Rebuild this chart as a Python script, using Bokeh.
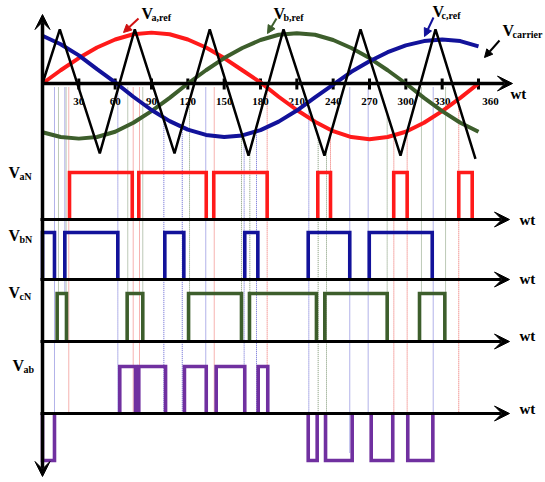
import numpy as np
from bokeh.plotting import figure
from bokeh.models import Range1d, Arrow, VeeHead, NormalHead
from bokeh.core.properties import value
from bokeh.embed import file_html
from bokeh.resources import INLINE

# ---------------- data ----------------
# reference waves (per unit), sampled every 15 degrees
ref_angle = [0, 15, 30, 45, 60, 75, 90, 105, 120, 135, 150, 165, 180,
             195, 210, 225, 240, 255, 270, 285, 300, 315, 330, 345, 360]
va_ref = [0.00, 0.25, 0.48, 0.68, 0.83, 0.93, 0.96, 0.93, 0.83, 0.68, 0.48, 0.25, 0.02,
          -0.25, -0.50, -0.72, -0.90, -1.01, -1.05, -1.01, -0.91, -0.74, -0.52, -0.27, 0.00]
vb_ref = [-0.92, -1.01, -1.04, -1.01, -0.91, -0.74, -0.52, -0.27, 0.00, 0.25, 0.48, 0.67, 0.82,
          0.92, 0.95, 0.92, 0.82, 0.67, 0.48, 0.25, 0.00, -0.27, -0.52, -0.74, -0.91]
vc_ref = [0.90, 0.74, 0.53, 0.27, 0.02, -0.25, -0.50, -0.71, -0.87, -0.97, -1.01, -0.98, -0.88,
          -0.72, -0.51, -0.26, -0.02, 0.22, 0.42, 0.59, 0.72, 0.80, 0.83, 0.80, 0.70]

# triangular carrier vertices
carrier_angle = [0, 14.3, 47.3, 76.2, 109.0, 138.1, 170.1, 199.0, 232.8, 262.6, 295.6, 324.5, 357.5]
carrier_value = [0, 1.02, -1.32, 1.02, -1.32, 1.02, -1.36, 1.02, -1.36, 1.02, -1.36, 1.02, -1.42]

tick_angle = [30, 60, 90, 120, 150, 180, 210, 240, 270, 300, 330, 360]
tick_label = ["30", "60", "90", "120", "150", "180", "210", "240", "270", "300", "330", "360"]

# switching pulses (degrees)
van_on = [22.3, 79.5, 141.4, 227.3, 290.0, 343.7]
van_off = [74.1, 135.2, 185.5, 237.8, 301.1, 354.8]
vbn_on = [0.0, 18.4, 101.0, 167.0, 219.4, 269.8]
vbn_off = [9.9, 62.2, 116.7, 177.8, 253.7, 321.8]
vcn_on = [12.1, 69.9, 120.6, 170.9, 233.1, 311.3]
vcn_off = [19.8, 82.8, 164.3, 226.2, 284.6, 332.2]
vab_on = [0.0, 63.8, 79.5, 117.2, 143.4, 178.1, 219.4, 233.7, 271.4, 301.6]
vab_off = [9.9, 76.8, 101.6, 135.2, 167.0, 186.0, 226.8, 255.7, 289.2, 322.3]
vab_level = [-1, 1, 1, 1, 1, 1, -1, -1, -1, -1]

# dotted guide lines
dot_angle = [9.9, 13.2, 18.4, 19.5, 21.7, 62.2, 70.4, 74.9, 80.1, 82.8, 100.2, 115.4,
             121.4, 134.8, 141.8, 164.3, 166.5, 171.2, 176.7, 185.5, 219.9, 227.6, 234.5,
             237.8, 253.7, 268.9, 284.6, 290.1, 301.1, 312.9, 322.6, 332.8, 343.7]
dot_series = ["b", "g", "b", "g", "r", "b", "g", "r", "r", "g", "b", "b",
              "g", "b", "r", "g", "b", "g", "b", "r", "b", "g", "g",
              "r", "b", "b", "g", "r", "r", "g", "b", "g", "r"]
dot_end = ["ab", "ctop", "ctop", "ctop", "ab", "ab", "ctop", "ab", "ab", "ctop", "ab", "ab",
           "ctop", "ab", "ab", "ctop", "ab", "ctop", "ab", "ab", "ab", "ab", "ab",
           "atop", "ablow", "ab", "cbase", "ab", "ab", "ctop", "ab", "ctop", "ab"]

# ---------------- layout ----------------
W, H = 545, 482
PX0 = 42.0
PXD = 436.0 / 360.0


def X(px):
    return (px - PX0) / PXD


panels = {"ref": (83, 53), "van": (219, 47), "vbn": (279, 47), "vcn": (341, 48), "vab": (413, 47)}
end_px = {"atop": 172, "ctop": 293, "cbase": 341, "ab": 413, "ablow": 452}

RED = "#FF1A1A"
BLUE = "#12129A"
GREEN = "#3D5E2C"
PURPLE = "#7030A0"
dot_colors = {"r": "#E8342E", "g": "#4F7040", "b": "#3333C4"}
FONT = value("Liberation Serif")

p = figure(width=W, height=H, x_range=Range1d(X(0), X(W)), y_range=Range1d(H, 0),
           output_backend="svg", toolbar_location=None,
           x_axis_location=None, y_axis_location=None, min_border=0,
           outline_line_color=None, background_fill_color="white", border_fill_color="white")
p.grid.visible = False
p.extra_y_ranges = {name: Range1d(-(H - b) / u, b / u) for name, (b, u) in panels.items()}

# dotted guides
b0, u0 = panels["ref"]
c_at = np.interp(dot_angle, carrier_angle, carrier_value)
y_start = [max(b0 + 4, b0 - c * u0) for c in c_at]
y_stop = [end_px[e] for e in dot_end]
p.segment(x0=dot_angle, y0=y_start, x1=dot_angle, y1=y_stop,
          line_color=[dot_colors[s] for s in dot_series], line_width=1,
          line_dash="1 1", line_alpha=0.75)


def pulses(on, off, levels, name, color):
    xs = [[a, a, b, b] for a, b in zip(on, off)]
    ys = [[0, l, l, 0] for l in levels]
    p.multi_line(xs, ys, line_color=color, line_width=3.6, y_range_name=name,
                 line_join="miter")


pulses(van_on, van_off, [1] * len(van_on), "van", RED)
pulses(vbn_on, vbn_off, [1] * len(vbn_on), "vbn", BLUE)
pulses(vcn_on, vcn_off, [1] * len(vcn_on), "vcn", GREEN)
pulses(vab_on, vab_off, vab_level, "vab", PURPLE)

# top axis ticks
p.segment(x0=tick_angle, y0=78, x1=tick_angle, y1=89, line_color="black", line_width=3)
tick_off = [0] * (len(tick_angle) - 1) + [12]
p.text(x=tick_angle, y=101, text=tick_label, x_offset=tick_off, text_font=FONT,
       text_font_style="bold", text_font_size="11px", text_align="center",
       text_baseline="middle", text_color="black")

# axes (arrows)
p.add_layout(Arrow(x_start=0, y_start=83, x_end=X(512), y_end=83, line_width=3.5,
                   line_color="black",
                   end=VeeHead(size=15, fill_color="black", line_color="black")))
for yb in [219, 279, 341, 413]:
    p.add_layout(Arrow(x_start=X(40), y_start=yb, x_end=X(509), y_end=yb, line_width=3.2,
                       line_color="black",
                       end=VeeHead(size=15, fill_color="black", line_color="black")))
p.add_layout(Arrow(x_start=0, y_start=476, x_end=0, y_end=14, line_width=3.5,
                   line_color="black",
                   start=VeeHead(size=15, fill_color="black", line_color="black"),
                   end=VeeHead(size=15, fill_color="black", line_color="black")))

# reference waves and carrier
p.line(ref_angle, va_ref, y_range_name="ref", line_color=RED, line_width=4)
p.line(ref_angle, vb_ref, y_range_name="ref", line_color=GREEN, line_width=4)
p.line(ref_angle, vc_ref, y_range_name="ref", line_color=BLUE, line_width=4)
p.line(carrier_angle, carrier_value, y_range_name="ref", line_color="black", line_width=2.5)

# "wt" labels
p.text(x=[X(510), X(519), X(519), X(519), X(519)], y=[93, 219, 278, 335, 408],
       text=["wt"] * 5, text_font=FONT, text_font_style="bold", text_font_size="15px",
       text_align="left", text_baseline="middle", text_color="black")

# main "V" letters
p.text(x=[X(8), X(8), X(8), X(12), X(141), X(273), X(432), X(502)],
       y=[172, 235, 292, 365, 13, 13, 11, 30],
       text=["V"] * 8, text_font=FONT, text_font_style="bold", text_font_size="16px",
       text_align="left", text_baseline="middle", text_color="black")
# subscripts
p.text(x=[X(19), X(19), X(19), X(23), X(151), X(283), X(441), X(512)],
       y=[176, 239, 296, 369, 17, 17, 15, 34],
       text=["aN", "bN", "cN", "ab", "a,ref", "b,ref", "c,ref", "carrier"],
       text_font=FONT, text_font_style="bold", text_font_size="10px",
       text_align="left", text_baseline="middle", text_color="black")

# pointer arrows to the curves
for (x0, y0, x1, y1, col) in [(138, 18, 123, 32, "#D01010"), (276, 18, 267, 33, GREEN),
                              (433, 17, 424, 36, BLUE), (499, 40, 484, 57, "black")]:
    p.add_layout(Arrow(x_start=X(x0), y_start=y0, x_end=X(x1), y_end=y1, line_width=2,
                       line_color=col,
                       end=NormalHead(size=8, fill_color=col, line_color=col)))

open("out.html", "w").write(file_html(p, INLINE))
